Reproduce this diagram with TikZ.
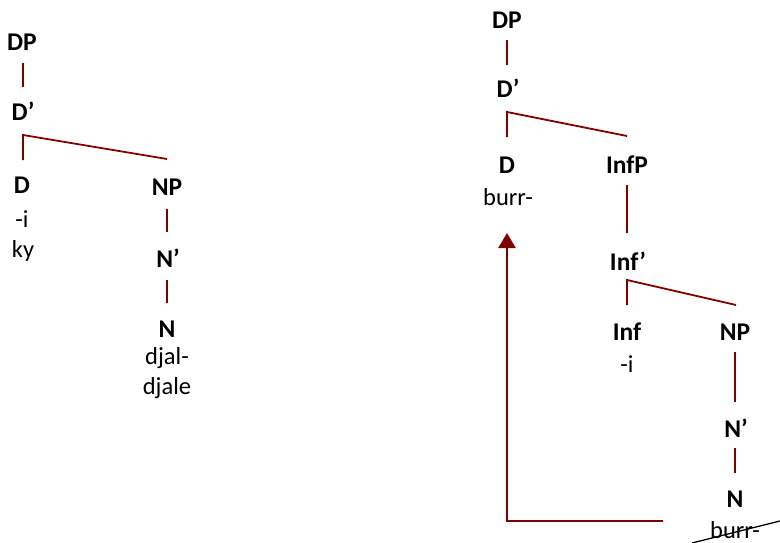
\documentclass[tikz,border=0pt]{standalone}
\usepackage{fontspec}
\setmainfont{Carlito}
\usetikzlibrary{arrows.meta}
\definecolor{treered}{RGB}{128,0,0}
\tikzset{
  lbl/.style={font=\fontsize{25.5}{30}\selectfont\bfseries, anchor=base, inner sep=0pt},
  wrd/.style={font=\fontsize{24.5}{29}\selectfont, anchor=base, inner sep=0pt},
  branch/.style={draw=treered, line width=1.8pt},
  movearrow/.style={draw=treered, line width=2.6pt, -{Triangle[length=15pt,width=17pt]}},
  strike/.style={draw=black, line width=1.3pt}
}
\begin{document}
\begin{tikzpicture}[x=1pt,y=-1pt]
\useasboundingbox (0,0) rectangle (780,543);
% ---------- left tree ----------
\node[lbl] (lDP) at (22,51) {DP};
\node[lbl] (lDbar) at (23,121) {D’};
\node[lbl] (lD) at (22,193) {D};
\node[wrd] (lDi) at (22,227) {-i};
\node[wrd] (lDky) at (23,257) {ky};
\node[lbl] (lNP) at (167,195) {NP};
\node[lbl] (lNbar) at (168,267) {N’};
\node[lbl] (lN) at (167,337) {N};
\node[wrd] (lNw1) at (167,364) {djal-};
\node[wrd] (lNw2) at (167,394) {djale};
\coordinate (lDPb) at (23,63);
\coordinate (lDbart) at (23,87);
\coordinate (lbrk) at (23,135);
\coordinate (lDt) at (23,160);
\coordinate (lNPt) at (167,159);
\coordinate (lNPb) at (167,209);
\coordinate (lNbart) at (167,232);
\coordinate (lNbarb) at (167,280);
\coordinate (lNt) at (167,303);
\draw[branch] (lDPb) -- (lDbart);
\draw[branch] (lDt) -- (lbrk) -- (lNPt);
\draw[branch] (lNPb) -- (lNbart);
\draw[branch] (lNbarb) -- (lNt);
% ---------- right tree ----------
\node[lbl] (rDP) at (507,29) {DP};
\node[lbl] (rDbar) at (508,98) {D’};
\node[lbl] (rD) at (507,173) {D};
\node[wrd] (rDw) at (508,205) {burr-};
\node[lbl] (rInfP) at (627,173) {InfP};
\node[lbl] (rInfbar) at (628,270) {Inf’};
\node[lbl] (rInf) at (627,340) {Inf};
\node[wrd] (rInfw) at (627,372) {-i};
\node[lbl] (rNP) at (735,340) {NP};
\node[lbl] (rNbar) at (736,437) {N’};
\node[lbl] (rN) at (735,507) {N};
\node[wrd] (rNw) at (735,538) {burr-};
\coordinate (rDPb) at (507,40);
\coordinate (rDbart) at (507,65);
\coordinate (rbrk) at (507,112);
\coordinate (rDt) at (507,137);
\coordinate (rInfPt) at (627,136);
\coordinate (rInfPb) at (627,185);
\coordinate (rInfbart) at (627,233);
\coordinate (rbrk2) at (627,280);
\coordinate (rInft) at (627,305);
\coordinate (rNPt) at (736,305);
\coordinate (rNPb) at (735,352);
\coordinate (rNbart) at (735,402);
\coordinate (rNbarb) at (735,448);
\coordinate (rNt) at (735,473);
\draw[branch] (rDPb) -- (rDbart);
\draw[branch] (rDt) -- (rbrk) -- (rInfPt);
\draw[branch] (rInfPb) -- (rInfbart);
\draw[branch] (rInft) -- (rbrk2) -- (rNPt);
\draw[branch] (rNPb) -- (rNbart);
\draw[branch] (rNbarb) -- (rNt);
% movement arrow
\coordinate (mvstart) at (663,521);
\coordinate (mvcorner) at (507,521);
\coordinate (mvend) at (507,233);
\draw[movearrow] (mvstart) -- (mvcorner) -- (mvend);
% strike-through of the lower copy
\coordinate (stA) at (692,543);
\coordinate (stB) at (782,520.5);
\draw[strike] (stA) -- (stB);
\end{tikzpicture}
\end{document}
